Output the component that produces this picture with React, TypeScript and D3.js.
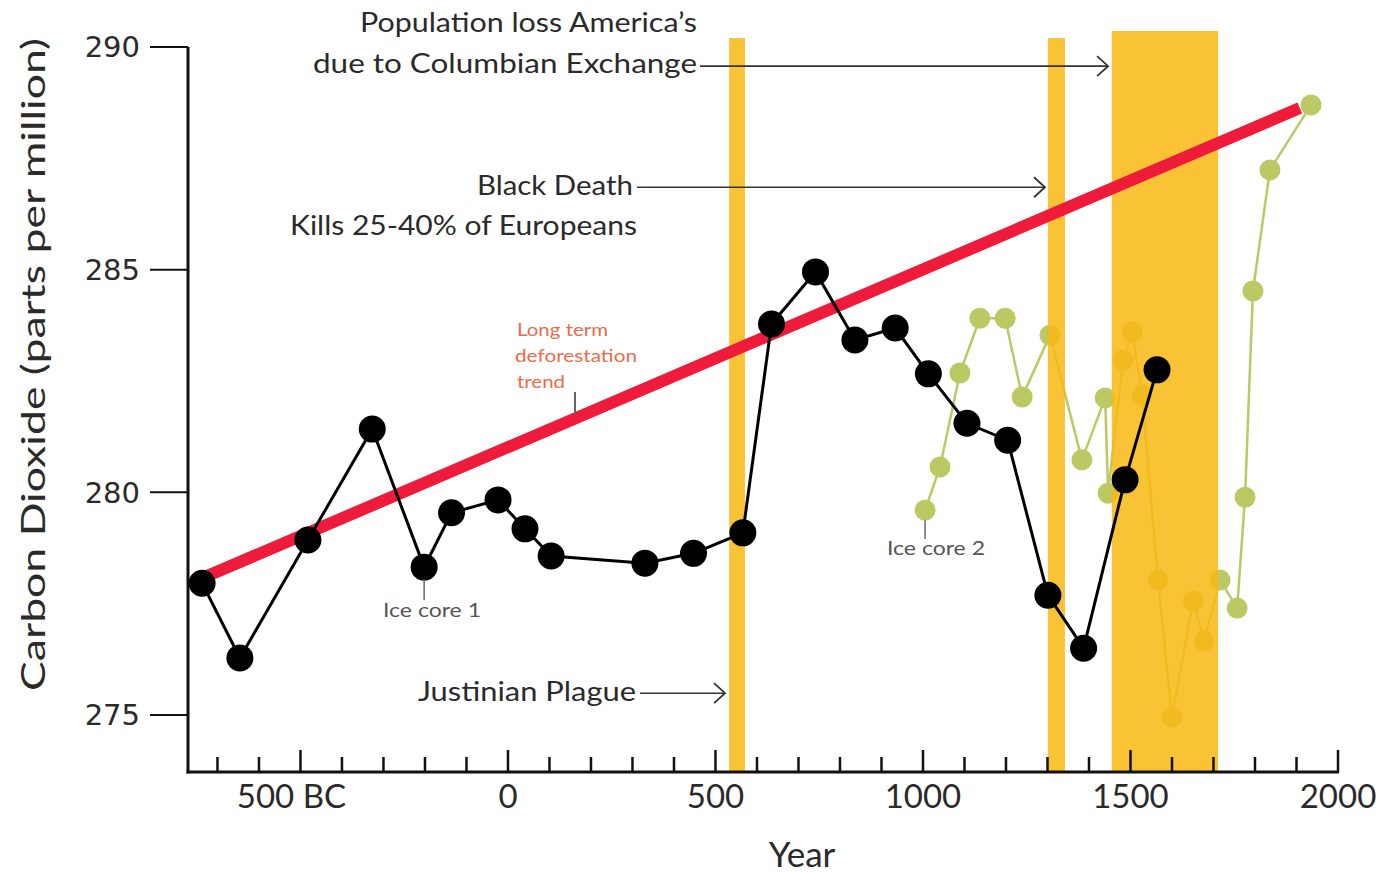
import React from "react";
import * as d3 from "d3";

// ---- data ----
const iceCore1Years = [-737, -646, -482, -327, -202, -136, -24, 41, 104, 330, 447, 566, 635, 741, 836, 933, 1013, 1106, 1204, 1301, 1387, 1487, 1564];
const iceCore1CO2 = [277.96, 276.28, 278.93, 281.42, 278.32, 279.54, 279.83, 279.18, 278.57, 278.41, 278.63, 279.09, 283.78, 284.95, 283.42, 283.69, 282.66, 281.55, 281.17, 277.69, 276.5, 280.28, 282.75];

const iceCore2Years = [1005, 1041, 1089, 1137, 1198, 1239, 1306, 1383, 1439, 1446, 1482, 1504, 1528, 1566, 1600, 1651, 1677, 1716, 1757, 1776, 1795, 1836, 1935];
const iceCore2CO2 = [279.6, 280.57, 282.68, 283.91, 283.91, 282.14, 283.53, 280.73, 282.12, 279.98, 282.97, 283.6, 282.19, 278.03, 274.95, 277.56, 276.66, 278.03, 277.4, 279.89, 284.52, 287.24, 288.7];

const trendYears = [-735, 1908];
const trendCO2 = [278.08, 288.63];

const plagueNames = ["Justinian Plague", "Black Death", "Columbian Exchange"];
const plagueStart = [533, 1301, 1455];
const plagueEnd = [571, 1342, 1711];
const plagueTop = [290.2, 290.2, 290.36];

const yTicks = [275, 280, 285, 290];
const xMajorTicks = [-500, 0, 500, 1000, 1500, 2000];
const xMajorLabels = ["500 BC", "0", "500", "1000", "1500", "2000"];
const xMinorTicks = d3.range(-700, 2001, 100);

const arrowTipYears = [523, 1294, 1446];
const arrowLevels = [275.49, 286.85, 289.57];

const W = 1394;
const H = 874;

export default function App() {
  const x = d3.scaleLinear().domain([-771, 2000]).range([188, 1338]);
  const y = d3.scaleLinear().domain([273.72, 290]).range([772, 47]);

  const axisY = y(273.72);
  const axisX = x(-771);

  const line = d3
    .line<[number, number]>()
    .x((d) => x(d[0]))
    .y((d) => y(d[1]));

  const core1: [number, number][] = iceCore1Years.map((yr, i) => [yr, iceCore1CO2[i]]);
  const core2: [number, number][] = iceCore2Years.map((yr, i) => [yr, iceCore2CO2[i]]);
  const trend: [number, number][] = trendYears.map((yr, i) => [yr, trendCO2[i]]);

  const orange = "#F9B915";
  const green = "#BCC862";
  const textFont = "Lato, 'Open Sans', sans-serif";
  const textCol = "#2a2a2a";

  const chevron = (tx: number, ty: number) =>
    `M${tx - 11},${ty - 10} L${tx},${ty} L${tx - 11},${ty + 10}`;

  const arrowStarts = [640, 637, 700];

  return (
    <svg
      width={W}
      height={H}
      style={{ position: "absolute", left: 0, top: 0, background: "#fff" }}
      xmlns="http://www.w3.org/2000/svg"
    >
      <rect width={W} height={H} fill="#fff" />

      {/* ice core 2 */}
      <g>
        <path d={line(core2) || ""} fill="none" stroke={green} strokeWidth={2.5} />
        {core2.map((d, i) => (
          <circle key={i} cx={x(d[0])} cy={y(d[1])} r={10.5} fill={green} />
        ))}
      </g>

      {/* plague bars */}
      {plagueNames.map((n, i) => (
        <rect
          key={n}
          x={x(plagueStart[i])}
          y={y(plagueTop[i])}
          width={x(plagueEnd[i]) - x(plagueStart[i])}
          height={axisY - y(plagueTop[i])}
          fill={orange}
          opacity={0.86}
        />
      ))}

      {/* trend line */}
      <path d={line(trend) || ""} fill="none" stroke="#EE1B3A" strokeWidth={12} />

      {/* ice core 1 */}
      <path d={line(core1) || ""} fill="none" stroke="#000" strokeWidth={3} />
      {core1.map((d, i) => (
        <circle key={i} cx={x(d[0])} cy={y(d[1])} r={13.5} fill="#000" />
      ))}

      {/* y axis */}
      <line x1={axisX} x2={axisX} y1={y(290)} y2={axisY + 1.5} stroke="#111" strokeWidth={3} />
      {yTicks.map((t) => (
        <g key={t}>
          <line x1={150} x2={axisX} y1={y(t)} y2={y(t)} stroke="#111" strokeWidth={2} />
          <text
            x={140}
            y={y(t)}
            dy="0.36em"
            textAnchor="end"
            fontFamily="'DejaVu Sans', sans-serif"
            fontSize={29}
            fill={textCol}
          >
            {t}
          </text>
        </g>
      ))}
      <text
        transform={`translate(45,${(y(290) + axisY) / 2 - 45}) rotate(-90)`}
        textAnchor="middle"
        fontFamily={textFont}
        fontSize={32}
        fill={textCol}
        textLength={653}
        lengthAdjust="spacingAndGlyphs"
      >
        Carbon Dioxide (parts per million)
      </text>

      {/* x axis */}
      <line x1={axisX - 1.5} x2={x(2000) + 1} y1={axisY} y2={axisY} stroke="#111" strokeWidth={3} />
      {xMinorTicks.map((t) => {
        const major = xMajorTicks.includes(t);
        return (
          <line
            key={t}
            x1={x(t)}
            x2={x(t)}
            y1={axisY}
            y2={axisY - (major ? 22 : 15)}
            stroke="#111"
            strokeWidth={2.5}
          />
        );
      })}
      {xMajorTicks.map((t, i) => (
        <text
          key={t}
          x={x(t) + (t === -500 ? -9 : 0)}
          y={808}
          textAnchor="middle"
          fontFamily={textFont}
          fontSize={33}
          fill={textCol}
        >
          {xMajorLabels[i]}
        </text>
      ))}
      <text x={802} y={867} textAnchor="middle" fontFamily={textFont} fontSize={35} fill={textCol}>
        Year
      </text>

      {/* annotation arrows */}
      {arrowTipYears.map((yr, i) => {
        const tip = x(yr);
        const yv = y(arrowLevels[i]);
        return (
          <g key={i}>
            <line x1={arrowStarts[i]} x2={tip} y1={yv} y2={yv} stroke="#333" strokeWidth={1.6} />
            <path d={chevron(tip, yv)} fill="none" stroke="#333" strokeWidth={1.8} />
          </g>
        );
      })}

      {/* annotation texts */}
      <g fontFamily={textFont} fontSize={27} fill={textCol} textAnchor="end">
        <text x={697} y={32} textLength={337} lengthAdjust="spacingAndGlyphs">
          Population loss America’s
        </text>
        <text x={697} y={73} textLength={384} lengthAdjust="spacingAndGlyphs">
          due to Columbian Exchange
        </text>
        <text x={633} y={195} textLength={156} lengthAdjust="spacingAndGlyphs">
          Black Death
        </text>
        <text x={637} y={235} textLength={347} lengthAdjust="spacingAndGlyphs">
          Kills 25-40% of Europeans
        </text>
        <text x={636} y={701} textLength={218} lengthAdjust="spacingAndGlyphs">
          Justinian Plague
        </text>
      </g>

      {/* trend label */}
      <g fontFamily={textFont} fontSize={17} fill="#EC6B47">
        <text x={517} y={336} textLength={91} lengthAdjust="spacingAndGlyphs">Long term</text>
        <text x={515} y={362} textLength={122} lengthAdjust="spacingAndGlyphs">deforestation</text>
        <text x={517} y={388} textLength={48} lengthAdjust="spacingAndGlyphs">trend</text>
      </g>
      <line x1={575} x2={575} y1={392} y2={414} stroke="#666" strokeWidth={2} />

      {/* ice core labels */}
      <line x1={x(-202)} x2={x(-202)} y1={y(278.32) + 12} y2={600} stroke="#666" strokeWidth={1.5} />
      <text x={432} y={617} textAnchor="middle" fontFamily={textFont} fontSize={20} fill="#555" textLength={98} lengthAdjust="spacingAndGlyphs">
        Ice core 1
      </text>
      <line x1={x(1005)} x2={x(1005)} y1={y(279.6) + 10} y2={539} stroke="#667" strokeWidth={1.5} />
      <text x={936} y={555} textAnchor="middle" fontFamily={textFont} fontSize={20} fill="#555" textLength={98} lengthAdjust="spacingAndGlyphs">
        Ice core 2
      </text>
    </svg>
  );
}
